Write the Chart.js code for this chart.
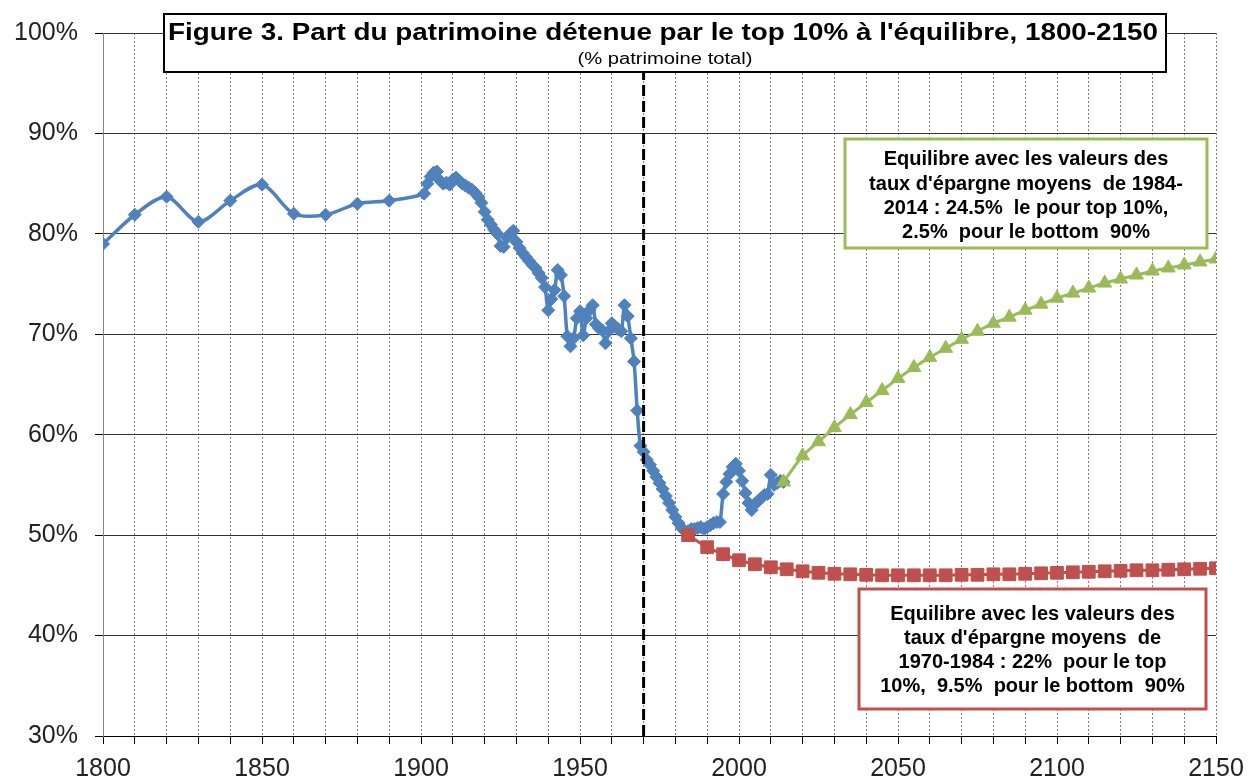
<!DOCTYPE html>
<html><head><meta charset="utf-8">
<script src="https://cdn.jsdelivr.net/npm/chart.js@4/dist/chart.umd.min.js"></script>
<style>html,body{margin:0;padding:0;background:#fff}#wrap{width:1248px;height:780px}</style>
</head><body><div id="wrap"><canvas id="c" width="1248" height="780"></canvas></div>
<script>
// ---- DATA ----
const histYears = [1800,1810,1820,1830,1840,1850,1860,1870,1880,1890,
  1901,1902,1903,1904,1905,1906,1907,1908,1909,1910,1911,1912,1913,1914,1915,1916,1917,1918,1919,
  1920,1921,1922,1923,1924,1925,1926,1927,1928,1929,1930,1931,1932,1933,1934,1935,1936,1937,1938,1939,
  1940,1941,1942,1943,1944,1945,1946,1947,1948,1949,1950,1951,1952,1953,1954,1955,1956,1957,1958,1959,
  1960,1961,1962,1963,1964,1965,1966,1967,1968,1969,1970,1971,1972,1973,1974,1975,1976,1977,1978,1979,
  1980,1981,1982,1983,1984,1985,1986,1987,1988,1989,1990,1991,1992,1993,1994,1995,1996,1997,1998,1999,
  2000,2001,2002,2003,2004,2005,2006,2007,2008,2009,2010,2011,2012,2013,2014];
const histShare = [79.0,81.9,83.7,81.2,83.3,84.9,82.0,81.9,83.0,83.3,
  84.0,85.0,85.7,86.1,86.2,85.3,85.0,85.1,84.9,85.4,85.6,85.3,85.0,84.8,84.6,84.4,84.1,83.7,83.1,
  82.2,81.4,80.9,80.4,80.0,78.8,78.7,79.6,80.0,80.3,79.2,78.6,78.1,77.7,77.3,76.9,76.6,76.1,75.6,74.7,
  72.4,73.5,74.4,76.4,75.9,73.8,69.8,68.8,69.6,71.6,72.3,69.9,71.6,72.4,72.9,71.0,70.6,70.4,69.1,70.3,
  71.1,70.8,70.5,70.3,72.9,71.8,69.6,67.3,62.4,58.9,58.3,57.5,57.0,56.4,55.8,55.2,54.6,53.9,53.2,52.5,
  51.8,51.2,50.7,50.4,50.4,50.6,50.6,50.7,50.8,50.6,50.8,51.0,51.2,51.3,51.3,54.1,55.3,56.1,56.8,57.1,
  56.4,55.4,54.2,53.2,52.5,53.1,53.4,53.7,54.0,54.1,56.0,55.0,55.2,55.4,55.3];

const lowYears = [1984,1990,1995,2000,2005,2010,2015,2020,2025,2030,2035,2040,2045,2050,2055,2060,2065,2070,
  2075,2080,2085,2090,2095,2100,2105,2110,2115,2120,2125,2130,2135,2140,2145,2150];
const lowShare = [50.0,48.8,48.1,47.5,47.1,46.8,46.6,46.4,46.25,46.15,46.1,46.05,46.0,46.0,46.0,46.0,46.0,46.05,
  46.05,46.1,46.1,46.15,46.2,46.25,46.3,46.35,46.4,46.45,46.5,46.5,46.55,46.6,46.65,46.7];

const highYears = [2014,2020,2025,2030,2035,2040,2045,2050,2055,2060,2065,2070,2075,2080,2085,2090,2095,2100,
  2105,2110,2115,2120,2125,2130,2135,2140,2145,2150];
const highShare = [55.3,57.9,59.3,60.7,62.0,63.2,64.4,65.6,66.7,67.7,68.6,69.5,70.3,71.1,71.7,72.4,73.0,73.6,
  74.1,74.6,75.1,75.5,75.9,76.3,76.6,76.9,77.2,77.5];

const markerYear = [1970, 1970];
const markerRange = [30, 100];

const yTicks = ['30%','40%','50%','60%','70%','80%','90%','100%'];
const titleText = "Figure 3. Part du patrimoine détenue par le top 10% à l'équilibre, 1800-2150";
const subtitleText = "(% patrimoine total)";
const highLabel = ["Equilibre avec les valeurs des", "taux d'épargne moyens  de 1984-", "2014 : 24.5%  le pour top 10%,", "2.5%  pour le bottom  90%"];
const lowLabel = ["Equilibre avec les valeurs des", "taux d'épargne moyens  de", "1970-1984 : 22%  pour le top", "10%,  9.5%  pour le bottom  90%"];

// ---- BUILD ----
const zip = (xs, ys) => xs.map((x, i) => ({x, y: ys[i]}));
const FONT = '"Liberation Sans", Arial, sans-serif';

const boxes = {
  id: 'boxes',
  afterDraw(chart) {
    const ctx = chart.ctx;
    ctx.save();
    // title box
    ctx.fillStyle = '#fff';
    ctx.fillRect(163, 13, 1004, 60);
    ctx.lineWidth = 2;
    ctx.strokeStyle = '#000';
    ctx.strokeRect(164, 14, 1002, 58);
    ctx.fillStyle = '#000';
    ctx.textAlign = 'center';
    ctx.textBaseline = 'alphabetic';
    const fit = (txt, font, cx, by, width) => {
      ctx.save();
      ctx.font = font;
      const w = ctx.measureText(txt).width;
      ctx.translate(cx, by);
      ctx.scale(width / w, 1);
      ctx.fillText(txt, 0, 0);
      ctx.restore();
    };
    fit(titleText, 'bold 23px ' + FONT, 663, 40, 990);
    fit(subtitleText, '16px ' + FONT, 665, 64, 175);

    const label = (lines, x1, y1, x2, y2, color, ys) => {
      ctx.fillStyle = '#fff';
      ctx.fillRect(x1, y1, x2 - x1, y2 - y1);
      ctx.lineWidth = 3;
      ctx.strokeStyle = color;
      ctx.strokeRect(x1, y1, x2 - x1, y2 - y1);
      ctx.fillStyle = '#000';
      ctx.font = 'bold 20px ' + FONT;
      ctx.textAlign = 'center';
      ctx.textBaseline = 'middle';
      lines.forEach((l, i) => ctx.fillText(l, (x1 + x2) / 2, ys[i]));
    };
    label(highLabel, 845, 139, 1207, 248, '#9BBB59', [159, 184, 208, 232]);
    label(lowLabel, 859, 589, 1206, 709, '#C0504D', [614, 638, 662, 686]);
    ctx.restore();
  }
};

new Chart(document.getElementById('c'), {
  type: 'line',
  data: {
    datasets: [
      {data: zip(markerYear, markerRange), borderColor: '#000', borderWidth: 3, borderDash: [11, 5],
       pointRadius: 0, tension: 0},
      {data: zip(highYears, highShare), borderColor: '#9BBB59', backgroundColor: '#9BBB59', borderWidth: 3,
       pointStyle: 'triangle', pointRadius: 8, pointBorderWidth: 1, tension: 0.2},
      {data: zip(lowYears, lowShare), borderColor: '#C0504D', backgroundColor: '#C0504D', borderWidth: 3,
       pointStyle: 'rect', pointRadius: 9, pointBorderWidth: 1, tension: 0.2},
      {data: zip(histYears, histShare), borderColor: '#4F81BD', backgroundColor: '#4F81BD', borderWidth: 3.5,
       pointStyle: 'rectRot', pointRadius: 6.5, pointBorderWidth: 1, tension: 0.3}
    ]
  },
  options: {
    responsive: false,
    animation: false,
    devicePixelRatio: 1,
    layout: {padding: {top: 33, right: 32, left: 0, bottom: 0}},
    plugins: {legend: {display: false}, tooltip: {enabled: false}},
    scales: {
      x: {
        type: 'linear', min: 1800, max: 2150,
        afterFit: s => { s.height = 44; s.paddingLeft = 0; s.paddingRight = 0; },
        ticks: {stepSize: 10, autoSkip: false, maxRotation: 0, padding: 10, color: '#222',
          font: {family: FONT, size: 25},
          callback: v => (v % 50 === 0 ? String(v) : '')},
        grid: {color: '#808080', lineWidth: 1, tickLength: 8, tickColor: '#000', tickBorderDash: [], tickWidth: 1},
        border: {color: '#000', width: 1, dash: [2, 2]}
      },
      y: {
        min: 30, max: 100,
        afterFit: s => { s.width = 103; s.paddingTop = 0; s.paddingBottom = 0; },
        ticks: {stepSize: 10, padding: 17, color: '#222', font: {family: FONT, size: 25},
          callback: v => yTicks[Math.round((v - 30) / 10)]},
        grid: {color: '#333', lineWidth: 1, tickLength: 8, tickColor: '#000'},
        border: {color: '#888', width: 1}
      }
    }
  },
  plugins: [boxes]
});
</script></body></html>
